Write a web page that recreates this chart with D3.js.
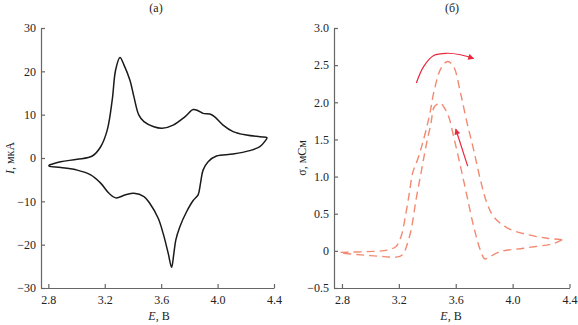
<!DOCTYPE html>
<html>
<head>
<meta charset="utf-8">
<script src="https://cdn.jsdelivr.net/npm/d3@7"></script>
<style>
  html, body { margin: 0; padding: 0; background: #fff; }
  svg { display: block; font-family: "Liberation Serif", "DejaVu Serif", serif; }
</style>
</head>
<body>
<svg id="chart" width="578" height="325"></svg>
<script>
// Cyclic voltammogram: anodic sweep (2.8 -> 4.35 V) then cathodic sweep back
const cvForwardE = [2.805, 2.888, 3.005, 3.112, 3.171, 3.218, 3.253, 3.277, 3.308, 3.336, 3.378, 3.407, 3.442, 3.478, 3.548, 3.607, 3.685, 3.768, 3.827, 3.862, 3.897, 3.945, 3.98, 4.039, 4.11, 4.205, 4.30, 4.35];
const cvForwardI = [-1.6, -0.85, -0.3, 0.46, 2.6, 6.5, 13.4, 20.3, 23.2, 21.5, 18.0, 14.1, 9.9, 8.4, 7.2, 6.85, 7.6, 9.5, 11.2, 10.9, 10.3, 10.15, 9.5, 7.6, 6.1, 5.3, 4.9, 4.7];
const cvReverseE = [4.334, 4.30, 4.228, 4.11, 3.992, 3.933, 3.897, 3.879, 3.862, 3.827, 3.78, 3.732, 3.704, 3.69, 3.674, 3.65, 3.614, 3.579, 3.52, 3.478, 3.407, 3.348, 3.277, 3.23, 3.171, 3.10, 3.005, 2.888, 2.805];
const cvReverseI = [3.8, 2.6, 1.7, 0.9, 0.46, -0.85, -2.8, -5.8, -8.5, -9.8, -12.4, -15.9, -18.9, -22.0, -25.2, -22.0, -17.4, -13.9, -10.5, -8.9, -8.15, -8.5, -9.2, -8.15, -5.8, -3.9, -2.8, -2.2, -1.85];

// In situ conductance: anodic and cathodic sweeps
const sigAnodicE = [2.79, 2.98, 3.12, 3.18, 3.215, 3.25, 3.274, 3.297, 3.332, 3.367, 3.414, 3.45, 3.497, 3.543, 3.585, 3.633, 3.68, 3.726, 3.773, 3.82, 3.867, 3.961, 4.102, 4.243, 4.348];
const sigAnodic  = [-0.02, -0.01, 0.01, 0.06, 0.19, 0.51, 0.78, 1.05, 1.23, 1.45, 1.81, 2.17, 2.46, 2.55, 2.48, 2.13, 1.72, 1.36, 0.96, 0.64, 0.46, 0.31, 0.22, 0.17, 0.15];
const sigCathodicE = [4.348, 4.29, 4.078, 3.914, 3.82, 3.804, 3.773, 3.726, 3.68, 3.633, 3.585, 3.55, 3.515, 3.492, 3.45, 3.426, 3.391, 3.356, 3.321, 3.286, 3.25, 3.227, 3.18, 3.098, 2.934, 2.79];
const sigCathodic  = [0.15, 0.10, 0.036, -0.01, -0.10, -0.11, 0.01, 0.33, 0.73, 1.14, 1.54, 1.81, 1.94, 1.99, 1.94, 1.72, 1.41, 1.05, 0.69, 0.28, 0.04, -0.05, -0.085, -0.077, -0.054, -0.03];

// Sweep-direction arrows on the conductance panel
const arrowAnodicE = [3.323, 3.374, 3.445, 3.539, 3.633, 3.726];
const arrowAnodicS = [2.26, 2.48, 2.63, 2.66, 2.64, 2.59];
const arrowCathodicE = [3.684, 3.60];
const arrowCathodicS = [1.14, 1.64];

// Tick values
const xTicks = [2.8, 3.2, 3.6, 4.0, 4.4];
const yTicksI = [-30, -20, -10, 0, 10, 20, 30];
const yTicksS = [-0.5, 0, 0.5, 1.0, 1.5, 2.0, 2.5, 3.0];

const zip = (xs, ys) => xs.map((x, i) => [x, ys[i]]);

const svg = d3.select("#chart");
const axisColor = "#666";
const textColor = "#222";

svg.append("defs").append("marker")
  .attr("id", "arrowhead")
  .attr("viewBox", "0 0 10 10")
  .attr("refX", 9).attr("refY", 5)
  .attr("markerWidth", 7).attr("markerHeight", 6)
  .attr("markerUnits", "userSpaceOnUse")
  .attr("orient", "auto")
  .append("path")
  .attr("d", "M0,0 L10,5 L0,10 Z")
  .attr("fill", "#e8283c");

function styleAxis(g) {
  g.select(".domain").attr("stroke", axisColor).attr("stroke-width", 1.2);
  g.selectAll(".tick line").attr("stroke", axisColor).attr("stroke-width", 1.2);
  g.selectAll(".tick text").attr("fill", textColor).attr("font-size", 12)
    .attr("font-family", "Liberation Serif, serif");
}

function panel(opts) {
  const x = d3.scaleLinear().domain(opts.xDomain).range(opts.xRange);
  const y = d3.scaleLinear().domain(opts.yDomain).range([288, 28]);

  const gx = svg.append("g").attr("transform", "translate(0,288)")
    .call(d3.axisBottom(x).tickValues(xTicks).tickFormat(d3.format(".1f"))
      .tickSizeInner(-4).tickSizeOuter(0).tickPadding(7));
  styleAxis(gx);

  const gy = svg.append("g").attr("transform", `translate(${opts.xRange[0]},0)`)
    .call(d3.axisLeft(y).tickValues(opts.yTicks).tickFormat(opts.yFormat)
      .tickSizeInner(-4).tickSizeOuter(0).tickPadding(5));
  styleAxis(gy);

  // panel title
  svg.append("text").attr("x", opts.titleX).attr("y", 12)
    .attr("text-anchor", "middle").attr("font-size", 12).attr("fill", textColor)
    .text(opts.title);

  // x-axis title
  const xt = svg.append("text").attr("x", opts.xTitleX).attr("y", 320)
    .attr("text-anchor", "middle").attr("font-size", 12).attr("fill", textColor);
  xt.append("tspan").attr("font-style", "italic").text("E");
  xt.append("tspan").text(", В");

  // y-axis title
  const yt = svg.append("text")
    .attr("transform", `translate(${opts.yTitleX},158) rotate(-90)`)
    .attr("text-anchor", "middle").attr("font-size", 12).attr("fill", textColor);
  yt.append("tspan").attr("font-style", opts.yItalic ? "italic" : "normal").text(opts.ySymbol);
  yt.append("tspan").text(opts.yUnit);

  return { x, y };
}

// (а) cyclic voltammogram
const left = panel({
  xDomain: [2.748, 4.4], xRange: [41, 274],
  yDomain: [-30, 30], yTicks: yTicksI, yFormat: d3.format("d"),
  title: "(а)", titleX: 156, xTitleX: 159, yTitleX: 14,
  ySymbol: "I", yItalic: true, yUnit: ", мкА"
});

const cvLine = d3.line()
  .x(d => left.x(d[0])).y(d => left.y(d[1]))
  .curve(d3.curveCatmullRom.alpha(0.5));

const cvPoints = zip(cvForwardE, cvForwardI).concat(zip(cvReverseE, cvReverseI));
cvPoints.push([cvForwardE[0], cvForwardI[0]]);

svg.append("path").datum(cvPoints)
  .attr("d", cvLine)
  .attr("fill", "none").attr("stroke", "#1a1a1a").attr("stroke-width", 1.5)
  .attr("stroke-linejoin", "round");

// (б) conductance
const right = panel({
  xDomain: [2.744, 4.4], xRange: [334, 569.5],
  yDomain: [-0.5, 3.0], yTicks: yTicksS,
  yFormat: d => d === 0 ? "0" : d3.format(".1f")(d),
  title: "(б)", titleX: 452, xTitleX: 451, yTitleX: 306,
  ySymbol: "σ", yItalic: false, yUnit: ", мСм"
});

const sLine = d3.line()
  .x(d => right.x(d[0])).y(d => right.y(d[1]))
  .curve(d3.curveCatmullRom.alpha(0.5));

[zip(sigAnodicE, sigAnodic), zip(sigCathodicE, sigCathodic)].forEach(pts => {
  svg.append("path").datum(pts)
    .attr("d", sLine)
    .attr("fill", "none").attr("stroke", "#f28a72").attr("stroke-width", 1.4)
    .attr("stroke-dasharray", "8,5");
});

[zip(arrowAnodicE, arrowAnodicS), zip(arrowCathodicE, arrowCathodicS)].forEach(pts => {
  svg.append("path").datum(pts)
    .attr("d", sLine)
    .attr("fill", "none").attr("stroke", "#e8283c").attr("stroke-width", 1.2)
    .attr("marker-end", "url(#arrowhead)");
});
</script>
</body>
</html>
